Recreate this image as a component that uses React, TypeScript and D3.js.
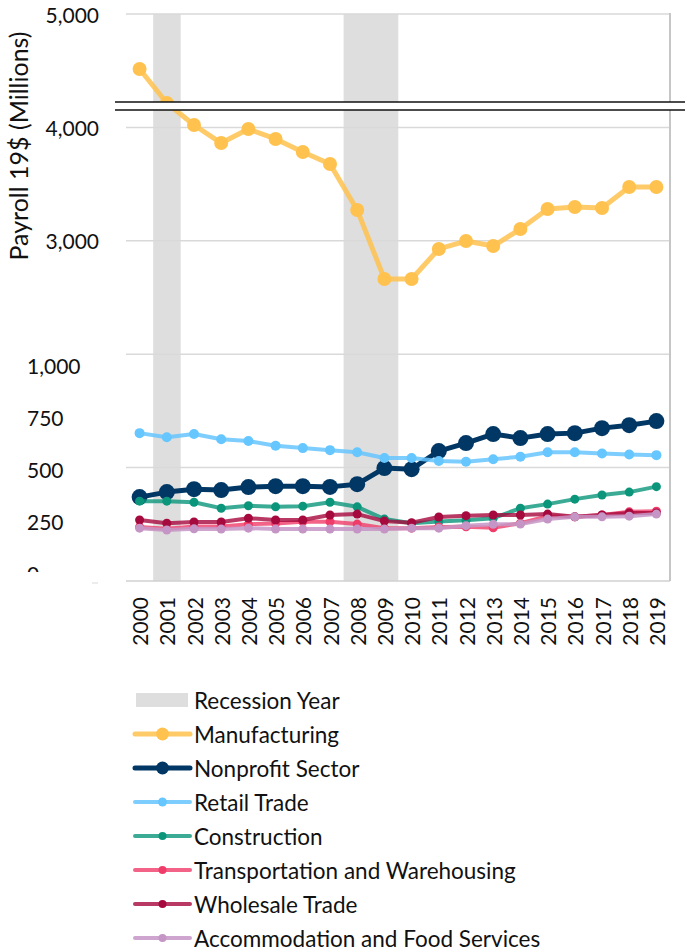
import React from 'react';
import * as d3 from 'd3';

const years = ['2000', '2001', '2002', '2003', '2004', '2005', '2006', '2007', '2008', '2009',
  '2010', '2011', '2012', '2013', '2014', '2015', '2016', '2017', '2018', '2019'];
const recessionYears = ['2001', '2008', '2009'];

// manufacturing is read on the upper (broken) axis
const manufacturing = [4515, 4215, 4021, 3862, 3986, 3898, 3783, 3677, 3272, 2663,
  2663, 2928, 2998, 2954, 3104, 3280, 3298, 3289, 3474, 3474];
// the rest on the lower axis
const nonprofit = [370, 392, 405, 401, 414, 418, 418, 415, 427, 498,
  493, 573, 608, 648, 630, 648, 652, 674, 687, 705];
const retail = [652, 634, 648, 625, 617, 596, 586, 577, 568, 542,
  542, 529, 526, 537, 548, 568, 568, 562, 558, 555];
const construction = [352, 352, 347, 321, 332, 327, 330, 347, 327, 273,
  255, 262, 268, 277, 321, 339, 361, 379, 392, 416];
const transportation = [238, 230, 240, 240, 250, 254, 261, 261, 251, 233,
  233, 238, 239, 235, 255, 286, 283, 291, 305, 308];
const wholesale = [269, 255, 260, 260, 277, 269, 269, 291, 295, 264,
  257, 282, 288, 291, 291, 295, 283, 291, 300, 300];
const accommodation = [233, 225, 230, 229, 233, 229, 229, 229, 229, 229,
  233, 233, 244, 250, 251, 273, 283, 283, 286, 295];

const upperTicks = [3000, 4000, 5000];
const upperGrid = [3000, 4000, 5000];
const lowerTicks = [0, 250, 500, 750, 1000];
const lowerGrid = [500, 1000];

type Series = { name: string; values: number[]; color: string; upper: boolean; r: number; w: number; lr: number; op: number };

const series: Series[] = [
  { name: 'Manufacturing', values: manufacturing, color: '#ffc24f', upper: true, r: 7, w: 5, lr: 6.5, op: 0.85 },
  { name: 'Nonprofit Sector', values: nonprofit, color: '#003764', upper: false, r: 8, w: 5, lr: 6.5, op: 1 },
  { name: 'Retail Trade', values: retail, color: '#66c6ff', upper: false, r: 5, w: 4, lr: 4.5, op: 0.85 },
  { name: 'Construction', values: construction, color: '#0b967c', upper: false, r: 4.5, w: 4, lr: 4, op: 0.8 },
  { name: 'Transportation and Warehousing', values: transportation, color: '#f03c69', upper: false, r: 4.5, w: 4, lr: 4, op: 0.8 },
  { name: 'Wholesale Trade', values: wholesale, color: '#a6093d', upper: false, r: 4.5, w: 4, lr: 4, op: 0.8 },
  { name: 'Accommodation and Food Services', values: accommodation, color: '#c595c5', upper: false, r: 4.5, w: 4, lr: 4, op: 0.85 },
];

const width = 685;
const height = 951;
const left = 126;
const right = 670;
const top = 14;
const bottom = 581;
const font = 'Lato, "Open Sans", sans-serif';

export default function App() {
  const x = d3.scaleBand<string>().domain(years).range([left, right]);
  const cx = (yr: string) => (x(yr) ?? 0) + x.bandwidth() / 2;
  const yUpper = d3.scaleLinear().domain([0, 5000]).range([bottom, top]);
  const yLower = d3.scaleLinear().domain([0, 1000]).range([bottom, yUpper(2000)]);
  // the lower axis labels were placed by hand a bit off the grid
  const yLowerLabel = d3.scaleLinear().domain([0, 1000]).range([573, 365]);

  const breakY1 = 102;
  const breakY2 = 110;

  const legendY = d3.scaleLinear().domain([0, 1]).range([700, 734]);

  return (
    <svg width={width} height={height} style={{ position: 'absolute', left: 0, top: 0, background: '#fff' }}
      fontFamily={font}>
      <defs>
        <clipPath id="zeroClip">
          <rect x={0} y={0} width={120} height={572} />
        </clipPath>
      </defs>
      <rect width={width} height={height} fill="#fff" />

      {recessionYears.map(yr => (
        <rect key={yr} x={x(yr)} y={top} width={x.bandwidth() + 0.3} height={bottom - top} fill="#dedede" />
      ))}

      {upperGrid.map(v => (
        <line key={'u' + v} x1={left} x2={right} y1={yUpper(v)} y2={yUpper(v)} stroke="#d9d9d9" strokeWidth={1.5} />
      ))}
      {lowerGrid.map(v => (
        <line key={'l' + v} x1={left} x2={right} y1={yLower(v)} y2={yLower(v)} stroke="#d9d9d9" strokeWidth={1.5} />
      ))}
      <line x1={left} x2={right} y1={bottom} y2={bottom} stroke="#d0d0d0" strokeWidth={1.5} />
      <line x1={right} x2={right} y1={top - 1} y2={bottom} stroke="#c6c6c6" strokeWidth={2} />

      {upperTicks.map(v => (
        <text key={'ut' + v} x={99} y={yUpper(v)} textAnchor="end" dominantBaseline="central" fontSize={21} fill="#111">
          {d3.format(',')(v)}
        </text>
      ))}
      {lowerTicks.map(v => (
        <text key={'lt' + v} x={27} y={yLowerLabel(v)} dominantBaseline="central" fontSize={21} fill="#111"
          clipPath={v === 0 ? 'url(#zeroClip)' : undefined}>
          {d3.format(',')(v)}
        </text>
      ))}
      <line x1={92} x2={98} y1={583} y2={583} stroke="#d9d9d9" strokeWidth={1} />

      <text transform={`translate(18,146) rotate(-90)`} textAnchor="middle" dominantBaseline="central" fontSize={25} fill="#111">
        Payroll 19$ (Millions)
      </text>

      {years.map(yr => (
        <text key={yr} transform={`translate(${cx(yr)},597) rotate(-90)`} textAnchor="end" dominantBaseline="central"
          fontSize={21} fill="#111">
          {yr}
        </text>
      ))}

      {series.map(s => {
        const y = s.upper ? yUpper : yLower;
        const line = d3.line<number>().x((_, i) => cx(years[i])).y(d => y(d));
        return (
          <g key={s.name}>
            <path d={line(s.values) ?? ''} fill="none" stroke={s.color} strokeWidth={s.w} strokeOpacity={s.op}
              strokeLinejoin="round" />
            {s.values.map((v, i) => (
              <circle key={i} cx={cx(years[i])} cy={y(v)} r={s.r} fill={s.color} />
            ))}
          </g>
        );
      })}

      <rect x={115} y={breakY1} width={width - 115} height={breakY2 - breakY1} fill="#fff" />
      <line x1={115} x2={width} y1={breakY1} y2={breakY1} stroke="#111" strokeWidth={1.5} />
      <line x1={115} x2={width} y1={breakY2} y2={breakY2} stroke="#111" strokeWidth={1.5} />

      <g>
        <rect x={136} y={legendY(0) - 7} width={52} height={14} fill="#dedede" />
        <text x={194} y={legendY(0)} dominantBaseline="central" fontSize={22.5} fill="#111">Recession Year</text>
        {series.map((s, i) => {
          const ly = legendY(i + 1);
          return (
            <g key={'lg' + s.name}>
              <line x1={135} x2={190} y1={ly} y2={ly} stroke={s.color} strokeWidth={s.w} strokeOpacity={s.op} strokeLinecap="round" />
              <circle cx={162.5} cy={ly} r={s.lr} fill={s.color} />
              <text x={194} y={ly} dominantBaseline="central" fontSize={22.5} fill="#111">{s.name}</text>
            </g>
          );
        })}
      </g>
    </svg>
  );
}
